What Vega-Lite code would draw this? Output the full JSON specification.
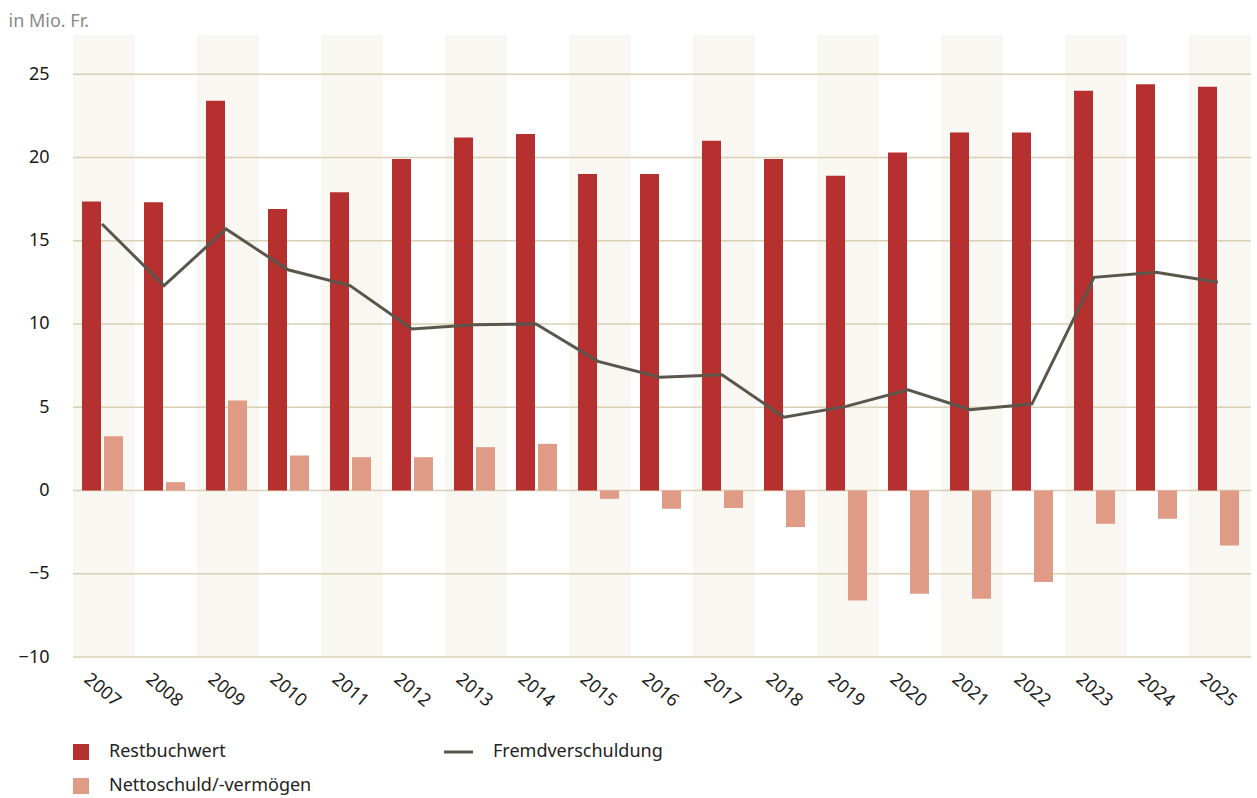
{
  "$schema": "https://vega.github.io/schema/vega-lite/v6.json",
  "width": 1178,
  "height": 622,
  "autosize": {"type": "none"},
  "padding": {"left": 73, "top": 35, "right": 6, "bottom": 141},
  "background": "#ffffff",
  "config": {
    "view": {"stroke": null},
    "font": "Noto Sans",
    "axis": {"labelFont": "Noto Sans", "titleFont": "Noto Sans"},
    "legend": {"labelFont": "Noto Sans"}
  },
  "datasets": {
    "werte": [
      {"jahr": 2007, "restbuchwert": 17.35, "nettoschuld": 3.25, "fremdverschuldung": 16.0},
      {"jahr": 2008, "restbuchwert": 17.3, "nettoschuld": 0.5, "fremdverschuldung": 12.3},
      {"jahr": 2009, "restbuchwert": 23.4, "nettoschuld": 5.4, "fremdverschuldung": 15.7},
      {"jahr": 2010, "restbuchwert": 16.9, "nettoschuld": 2.1, "fremdverschuldung": 13.25},
      {"jahr": 2011, "restbuchwert": 17.9, "nettoschuld": 2.0, "fremdverschuldung": 12.3},
      {"jahr": 2012, "restbuchwert": 19.9, "nettoschuld": 2.0, "fremdverschuldung": 9.7},
      {"jahr": 2013, "restbuchwert": 21.2, "nettoschuld": 2.6, "fremdverschuldung": 9.95},
      {"jahr": 2014, "restbuchwert": 21.4, "nettoschuld": 2.8, "fremdverschuldung": 10.0},
      {"jahr": 2015, "restbuchwert": 19.0, "nettoschuld": -0.5, "fremdverschuldung": 7.75},
      {"jahr": 2016, "restbuchwert": 19.0, "nettoschuld": -1.1, "fremdverschuldung": 6.8},
      {"jahr": 2017, "restbuchwert": 21.0, "nettoschuld": -1.05, "fremdverschuldung": 6.95},
      {"jahr": 2018, "restbuchwert": 19.9, "nettoschuld": -2.2, "fremdverschuldung": 4.4},
      {"jahr": 2019, "restbuchwert": 18.9, "nettoschuld": -6.6, "fremdverschuldung": 5.05},
      {"jahr": 2020, "restbuchwert": 20.3, "nettoschuld": -6.2, "fremdverschuldung": 6.05},
      {"jahr": 2021, "restbuchwert": 21.5, "nettoschuld": -6.5, "fremdverschuldung": 4.85},
      {"jahr": 2022, "restbuchwert": 21.5, "nettoschuld": -5.5, "fremdverschuldung": 5.2},
      {"jahr": 2023, "restbuchwert": 24.0, "nettoschuld": -2.0, "fremdverschuldung": 12.8},
      {"jahr": 2024, "restbuchwert": 24.4, "nettoschuld": -1.7, "fremdverschuldung": 13.1},
      {"jahr": 2025, "restbuchwert": 24.25, "nettoschuld": -3.3, "fremdverschuldung": 12.5}
    ],
    "gitter": [
      {"wert": -10}, {"wert": -5}, {"wert": 0}, {"wert": 5},
      {"wert": 10}, {"wert": 15}, {"wert": 20}, {"wert": 25}
    ]
  },
  "data": {"name": "werte"},
  "encoding": {
    "x": {
      "field": "jahr",
      "type": "ordinal",
      "scale": {"paddingInner": 0, "paddingOuter": 0},
      "axis": {
        "title": null,
        "domain": false,
        "ticks": false,
        "tickSize": 0,
        "grid": false,
        "labelAngle": 40,
        "labelAlign": "center",
        "labelBaseline": "middle",
        "labelPadding": 33,
        "labelOffset": -2,
        "labelFontSize": 18,
        "labelColor": "#1a1a1a"
      }
    }
  },
  "layer": [
    {
      "transform": [{"filter": "datum.jahr % 2 == 1"}],
      "mark": {"type": "rect", "color": "#f9f7f2"},
      "encoding": {
        "y": {"datum": 27.35, "type": "quantitative"},
        "y2": {"datum": -10}
      }
    },
    {
      "data": {"name": "gitter"},
      "mark": {"type": "rule", "color": "#d9cfb3", "strokeWidth": 1.5},
      "encoding": {
        "x": null,
        "y": {"field": "wert", "type": "quantitative"}
      }
    },
    {
      "mark": {"type": "bar", "width": 19, "xOffset": -12.5},
      "encoding": {
        "y": {
          "field": "restbuchwert",
          "type": "quantitative",
          "scale": {"domain": [-10, 27.35], "nice": false, "zero": false},
          "axis": {
            "values": [-10, -5, 0, 5, 10, 15, 20, 25],
            "labelExpr": "replace(datum.label, '-', '−')",
            "grid": false,
            "domain": false,
            "ticks": false,
            "tickSize": 0,
            "labelPadding": 24,
            "labelFontSize": 18,
            "labelColor": "#1a1a1a",
            "title": "in Mio. Fr.",
            "titleAngle": 0,
            "titleAlign": "left",
            "titleBaseline": "alphabetic",
            "titleX": -65,
            "titleY": -9,
            "titleFontSize": 18,
            "titleFontWeight": "normal",
            "titleColor": "#8a8a8a"
          }
        },
        "color": {
          "datum": "Restbuchwert",
          "scale": {
            "domain": ["Restbuchwert", "Fremdverschuldung", "Nettoschuld/-vermögen"],
            "range": ["#b5302e", "#5a564b", "#df9b86"]
          },
          "legend": {
            "title": null,
            "orient": "none",
            "legendX": 0,
            "legendY": 708,
            "values": ["Restbuchwert", "Nettoschuld/-vermögen", "Fremdverschuldung"],
            "columns": 2,
            "columnPadding": 126,
            "rowPadding": 16,
            "labelFontSize": 18,
            "labelLimit": 400,
            "labelColor": "#222222",
            "labelOffset": 20,
            "symbolSize": 256,
            "symbolType": "square",
            "symbolStrokeWidth": 0,
            "encode": {
              "symbols": {
                "update": {
                  "shape": {"signal": "datum.value === 'Fremdverschuldung' ? 'stroke' : 'square'"},
                  "size": {"signal": "datum.value === 'Fremdverschuldung' ? 841 : 256"},
                  "x": {"signal": "datum.value === 'Fremdverschuldung' ? 14.5 : 8"},
                  "fill": {"signal": "datum.value === 'Fremdverschuldung' ? 'transparent' : scale('color', datum.value)"},
                  "stroke": {"signal": "datum.value === 'Fremdverschuldung' ? scale('color', datum.value) : 'transparent'"},
                  "strokeWidth": {"signal": "datum.value === 'Fremdverschuldung' ? 3 : 0"},
                  "fillOpacity": {"value": 1},
                  "opacity": {"value": 1}
                }
              },
              "labels": {
                "update": {
                  "x": {"signal": "datum.value === 'Fremdverschuldung' ? 49 : 36"}
                }
              }
            }
          }
        }
      }
    },
    {
      "mark": {"type": "bar", "width": 19, "xOffset": 9.5},
      "encoding": {
        "y": {"field": "nettoschuld", "type": "quantitative"},
        "color": {"datum": "Nettoschuld/-vermögen"}
      }
    },
    {
      "mark": {"type": "line", "strokeWidth": 3, "xOffset": -2},
      "encoding": {
        "y": {"field": "fremdverschuldung", "type": "quantitative"},
        "color": {"datum": "Fremdverschuldung"}
      }
    }
  ]
}
